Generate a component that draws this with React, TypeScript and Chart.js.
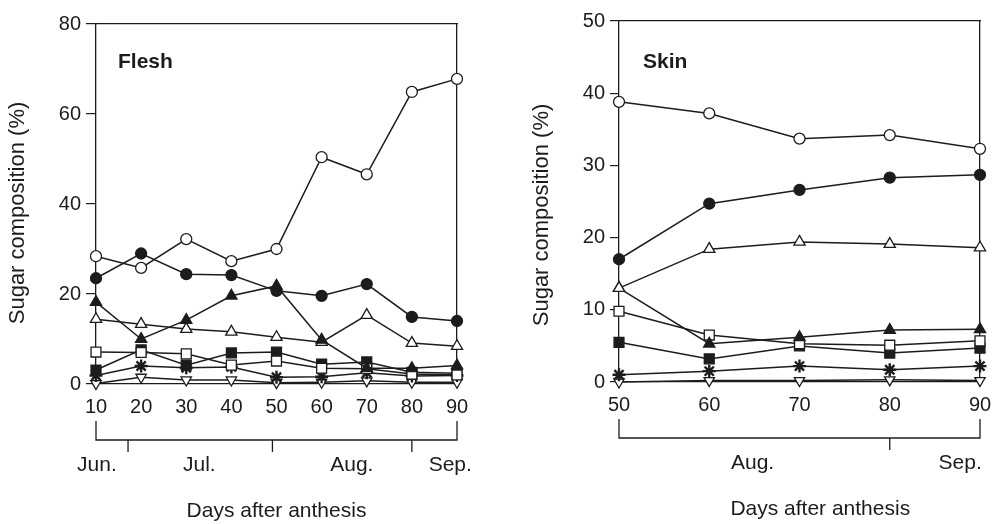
import React, { useEffect, useRef } from "react";
import { Chart, registerables } from "chart.js";

Chart.register(...registerables);

// ---------- data ----------
const fleshDays = [10, 20, 30, 40, 50, 60, 70, 80, 90];
const fleshOpenCircle = [28.4, 25.8, 32.2, 27.3, 30.0, 50.4, 46.6, 64.9, 67.8];
const fleshFilledCircle = [23.5, 29.0, 24.4, 24.2, 20.7, 19.6, 22.2, 14.9, 14.0];
const fleshFilledTriangle = [18.2, 10.0, 14.2, 19.6, 21.8, 9.8, 3.5, 3.5, 4.1];
const fleshOpenTriangle = [14.4, 13.3, 12.2, 11.6, 10.4, 9.3, 15.3, 9.1, 8.4];
const fleshOpenSquare = [7.1, 7.0, 6.7, 4.2, 5.1, 3.5, 3.4, 2.2, 2.0];
const fleshFilledSquare = [3.1, 7.6, 4.2, 6.9, 7.1, 4.4, 4.9, 2.6, 2.4];
const fleshAsterisk = [1.9, 4.0, 3.6, 3.8, 1.5, 1.6, 2.5, 1.8, 1.9];
const fleshOpenInvTriangle = [0.1, 1.5, 0.9, 0.9, 0.3, 0.4, 0.7, 0.4, 0.4];

const skinDays = [50, 60, 70, 80, 90];
const skinOpenCircle = [38.8, 37.2, 33.7, 34.2, 32.3];
const skinFilledCircle = [17.0, 24.7, 26.6, 28.3, 28.7];
const skinOpenTriangle = [13.0, 18.4, 19.4, 19.1, 18.6];
const skinFilledTriangle = [13.0, 5.3, 6.2, 7.2, 7.3];
const skinOpenSquare = [9.8, 6.5, 5.3, 5.1, 5.7];
const skinFilledSquare = [5.5, 3.2, 5.0, 4.0, 4.7];
const skinAsterisk = [1.0, 1.5, 2.2, 1.7, 2.2];
const skinOpenInvTriangle = [0.0, 0.2, 0.2, 0.3, 0.2];

const fleshYRange = [0, 80];
const fleshYStep = 20;
const skinYRange = [0, 50];
const skinYStep = 10;

const fleshMonths = ["Jun.", "Jul.", "Aug.", "Sep."];
const fleshMonthLabelAt = [10.2, 32.9, 66.7, 88.5];
const fleshMonthBounds = [17.1, 49.1, 80];
const skinMonths = ["Aug.", "Sep."];
const skinMonthLabelAt = [64.8, 87.8];
const skinMonthBounds = [80];

const yTitle = "Sugar composition (%)";
const xTitle = "Days after anthesis";

// ---------- styles ----------
const FONT = '"Liberation Sans", Arial, Helvetica, sans-serif';
const INK = "#1c1c1c";

const MARKERS: Record<string, any> = {
  openCircle: { pointStyle: "circle", pointRadius: 5.5, pointBackgroundColor: "#fff" },
  filledCircle: { pointStyle: "circle", pointRadius: 5.5, pointBackgroundColor: INK },
  openTriangle: { pointStyle: "triangle", pointRadius: 6.5, pointBackgroundColor: "#fff" },
  filledTriangle: { pointStyle: "triangle", pointRadius: 6.5, pointBackgroundColor: INK },
  openSquare: { pointStyle: "rect", pointRadius: 7, pointBackgroundColor: "#fff" },
  filledSquare: { pointStyle: "rect", pointRadius: 7, pointBackgroundColor: INK },
  asterisk: { pointStyle: "star", pointRadius: 6.5, pointBackgroundColor: INK, pointBorderWidth: 2.4 },
  openInvTriangle: { pointStyle: "triangle", pointRadius: 6, pointBackgroundColor: "#fff", pointRotation: 180 },
};

type Panel = {
  days: number[];
  series: { values: number[]; marker: string }[];
  yRange: number[];
  yStep: number;
  width: number;
  height: number;
  left: number;
  areaLeft: number;
  areaRight: number;
  areaTop: number;
  areaBottom: number;
  label: string;
  labelDx: number;
  labelDy: number;
  yTitleX: number;
  yTitleY: number;
  months: string[];
  monthAt: number[];
  bounds: number[];
  xTitleAt: number;
  yTickLen: number;
};

const fleshPanel: Panel = {
  days: fleshDays,
  series: [
    { values: fleshOpenCircle, marker: "openCircle" },
    { values: fleshFilledCircle, marker: "filledCircle" },
    { values: fleshFilledTriangle, marker: "filledTriangle" },
    { values: fleshOpenTriangle, marker: "openTriangle" },
    { values: fleshOpenSquare, marker: "openSquare" },
    { values: fleshFilledSquare, marker: "filledSquare" },
    { values: fleshAsterisk, marker: "asterisk" },
    { values: fleshOpenInvTriangle, marker: "openInvTriangle" },
  ],
  yRange: fleshYRange,
  yStep: fleshYStep,
  width: 500,
  height: 524,
  left: 0,
  areaLeft: 96,
  areaRight: 457,
  areaTop: 24,
  areaBottom: 384,
  label: "Flesh",
  labelDx: 22,
  labelDy: 38,
  yTitleX: 18,
  yTitleY: 213,
  months: fleshMonths,
  monthAt: fleshMonthLabelAt,
  bounds: fleshMonthBounds,
  xTitleAt: 50,
  yTickLen: 10,
};

const skinPanel: Panel = {
  days: skinDays,
  series: [
    { values: skinOpenCircle, marker: "openCircle" },
    { values: skinFilledCircle, marker: "filledCircle" },
    { values: skinOpenTriangle, marker: "openTriangle" },
    { values: skinFilledTriangle, marker: "filledTriangle" },
    { values: skinOpenSquare, marker: "openSquare" },
    { values: skinFilledSquare, marker: "filledSquare" },
    { values: skinAsterisk, marker: "asterisk" },
    { values: skinOpenInvTriangle, marker: "openInvTriangle" },
  ],
  yRange: skinYRange,
  yStep: skinYStep,
  width: 496,
  height: 524,
  left: 500,
  areaLeft: 119,
  areaRight: 480,
  areaTop: 21,
  areaBottom: 382,
  label: "Skin",
  labelDx: 24,
  labelDy: 41,
  yTitleX: 42,
  yTitleY: 215,
  months: skinMonths,
  monthAt: skinMonthLabelAt,
  bounds: skinMonthBounds,
  xTitleAt: 72.3,
  yTickLen: 9,
};

function makeDecor(p: Panel) {
  return {
    id: "decor",
    afterDraw(chart: any) {
      const { ctx, chartArea: a, scales } = chart;
      const x = scales.x;
      ctx.save();
      ctx.fillStyle = INK;
      ctx.strokeStyle = INK;
      ctx.lineWidth = 1.3;
      // panel label
      ctx.font = `bold 21px ${FONT}`;
      ctx.textAlign = "left";
      ctx.textBaseline = "middle";
      ctx.fillText(p.label, a.left + p.labelDx, a.top + p.labelDy);
      // y-axis title
      ctx.save();
      ctx.translate(p.yTitleX, p.yTitleY);
      ctx.rotate(-Math.PI / 2);
      ctx.font = `22px ${FONT}`;
      ctx.textAlign = "center";
      ctx.fillText(yTitle, 0, 0);
      ctx.restore();
      // month bracket
      const b0 = a.bottom + 37;
      const b1 = a.bottom + 56;
      const b2 = a.bottom + 68;
      const xl = x.getPixelForValue(x.min);
      const xr = x.getPixelForValue(x.max);
      ctx.beginPath();
      ctx.moveTo(xl, b0);
      ctx.lineTo(xl, b1);
      ctx.lineTo(xr, b1);
      ctx.lineTo(xr, b0);
      for (const v of p.bounds) {
        const px = x.getPixelForValue(v);
        ctx.moveTo(px, b1);
        ctx.lineTo(px, b2);
      }
      ctx.stroke();
      ctx.font = `21px ${FONT}`;
      ctx.textAlign = "center";
      p.months.forEach((m, i) => ctx.fillText(m, x.getPixelForValue(p.monthAt[i]), a.bottom + 81));
      ctx.fillText(xTitle, x.getPixelForValue(p.xTitleAt), a.bottom + 127);
      ctx.restore();
    },
  };
}

function makeConfig(p: Panel): any {
  const datasets = p.series.map((s) => ({
    data: p.days.map((d, i) => ({ x: d, y: s.values[i] })),
    borderColor: INK,
    borderWidth: 1.5,
    pointBorderColor: INK,
    pointBorderWidth: 1.3,
    tension: 0,
    clip: false,
    ...MARKERS[s.marker],
  }));
  const xMin = p.days[0];
  const xMax = p.days[p.days.length - 1];
  return {
    type: "line",
    data: { datasets },
    options: {
      animation: false,
      responsive: false,
      devicePixelRatio: 1,
      layout: {
        padding: { left: 0, right: p.width - p.areaRight, top: p.areaTop, bottom: 0 },
      },
      plugins: { legend: { display: false }, tooltip: { enabled: false } },
      scales: {
        x: {
          type: "linear",
          position: "bottom",
          min: xMin,
          max: xMax,
          afterBuildTicks: (scale: any) => {
            scale.ticks = p.days.map((d) => ({ value: d }));
          },
          ticks: { color: INK, font: { family: FONT, size: 20 }, padding: 11, maxRotation: 0, autoSkip: false },
          grid: { drawOnChartArea: false, drawTicks: false },
          border: { color: INK, width: 1.3 },
          afterFit: (scale: any) => {
            scale.height = p.height - p.areaBottom;
            scale.paddingLeft = 0;
            scale.paddingRight = 0;
          },
        },
        x2: {
          type: "linear",
          position: "top",
          min: xMin,
          max: xMax,
          ticks: { display: false },
          grid: { drawOnChartArea: false, drawTicks: false },
          border: { color: INK, width: 1.3 },
          afterFit: (scale: any) => {
            scale.height = 0;
            scale.paddingLeft = 0;
            scale.paddingRight = 0;
          },
        },
        y: {
          type: "linear",
          position: "left",
          min: p.yRange[0],
          max: p.yRange[1],
          ticks: { stepSize: p.yStep, color: INK, font: { family: FONT, size: 20 }, padding: 5 },
          grid: { drawOnChartArea: false, drawTicks: true, tickLength: p.yTickLen, color: INK, lineWidth: 1.2 },
          border: { color: INK, width: 1.3 },
          afterFit: (scale: any) => {
            scale.width = p.areaLeft;
          },
        },
        y2: {
          type: "linear",
          position: "right",
          min: p.yRange[0],
          max: p.yRange[1],
          ticks: { display: false },
          grid: { drawOnChartArea: false, drawTicks: false },
          border: { color: INK, width: 1.3 },
          afterFit: (scale: any) => {
            scale.width = 0;
          },
        },
      },
    },
    plugins: [makeDecor(p)],
  };
}

function PanelChart({ panel }: { panel: Panel }) {
  const ref = useRef<HTMLCanvasElement | null>(null);
  useEffect(() => {
    if (!ref.current) return;
    const chart = new Chart(ref.current, makeConfig(panel));
    return () => chart.destroy();
  }, [panel]);
  return (
    <canvas
      ref={ref}
      width={panel.width}
      height={panel.height}
      style={{ position: "absolute", left: panel.left, top: 0, width: panel.width, height: panel.height }}
    />
  );
}

export default function App() {
  return (
    <div
      style={{
        position: "fixed",
        left: 0,
        top: 0,
        width: 996,
        height: 524,
        background: "#fff",
        overflow: "hidden",
      }}
    >
      <PanelChart panel={fleshPanel} />
      <PanelChart panel={skinPanel} />
    </div>
  );
}
